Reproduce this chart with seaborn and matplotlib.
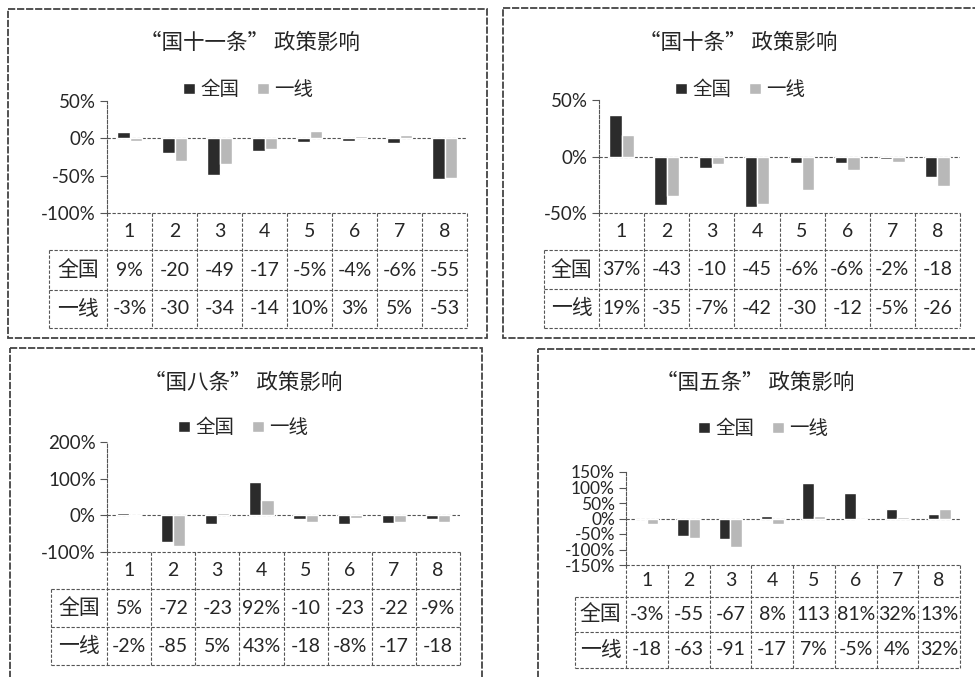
import pandas as pd
import matplotlib
matplotlib.use("Agg")
import matplotlib.pyplot as plt
from matplotlib.patches import Rectangle
import seaborn as sns

sns.set_theme(style="white")
plt.rcParams["font.family"] = ["Lato", "Noto Sans CJK SC", "DejaVu Sans"]

# 数据
categories = ["1", "2", "3", "4", "5", "6", "7", "8"]
series = ["全国", "一线"]
titles = ["“国十一条” 政策影响", "“国十条” 政策影响", "“国八条” 政策影响", "“国五条” 政策影响"]

guo11_quanguo = [9, -20, -49, -17, -5, -4, -6, -55]
guo11_yixian = [-3, -30, -34, -14, 10, 3, 5, -53]
guo10_quanguo = [37, -43, -10, -45, -6, -6, -2, -18]
guo10_yixian = [19, -35, -7, -42, -30, -12, -5, -26]
guo8_quanguo = [5, -72, -23, 92, -10, -23, -22, -9]
guo8_yixian = [-2, -85, 5, 43, -18, -8, -17, -18]
guo5_quanguo = [-3, -55, -67, 8, 113, 81, 32, 13]
guo5_yixian = [-18, -63, -91, -17, 7, -5, 4, 32]

y_ticks = [
    [50, 0, -50, -100],
    [50, 0, -50],
    [200, 100, 0, -100],
    [150, 100, 50, 0, -50, -100, -150],
]

colors = {"全国": "#2b2b2b", "一线": "#b8b8b8"}
line_col = "#555555"
dash = (0, (3, 1.5))

W, H = 975, 677

# 版面 (像素): 外框, y轴x, 绘图右边, 绘图顶, 表格行边界, 表格左边, 标题, 图例
layout = [
    dict(frame=(8, 9, 487, 338), x0=107, x1=467, ytop=101, rows=[213, 250, 290, 328],
         xl=49, title=(250, 43), legend=(248, 89), tick_size=13.5),
    dict(frame=(503, 8, 985, 338), x0=599, x1=960, ytop=100, rows=[213, 250, 289, 328],
         xl=544, title=(738, 43), legend=(740, 89), tick_size=13.5),
    dict(frame=(10, 348, 482, 690), x0=107, x1=460, ytop=442, rows=[552, 589, 627, 665],
         xl=51, title=(243, 383), legend=(243, 427), tick_size=13.5),
    dict(frame=(538, 349, 985, 690), x0=626, x1=960, ytop=472, rows=[565, 597, 632, 668],
         xl=575, title=(755, 383), legend=(763, 428), tick_size=12.5),
]


def fmt_cell(v):
    # Excel 数据表列太窄时会截掉 "%"
    s = f"{v}%"
    return s if len(s) <= 3 else s[:-1]


def fig_rect(x0, y0, x1, y1):
    return [x0 / W, 1 - y1 / H, (x1 - x0) / W, (y1 - y0) / H]


fig = plt.figure(figsize=(W / 100, H / 100), dpi=100)

ov = fig.add_axes([0, 0, 1, 1], zorder=-1)
ov.set_xlim(0, W)
ov.set_ylim(H, 0)
ov.axis("off")

panels = [
    (guo11_quanguo, guo11_yixian),
    (guo10_quanguo, guo10_yixian),
    (guo8_quanguo, guo8_yixian),
    (guo5_quanguo, guo5_yixian),
]

for k, (qg, yx) in enumerate(panels):
    L = layout[k]
    fx0, fy0, fx1, fy1 = L["frame"]
    ov.add_patch(Rectangle((fx0, fy0), fx1 - fx0, fy1 - fy0, fill=False,
                           edgecolor="#444444", lw=1.3, linestyle=(0, (4, 1))))
    ov.text(L["title"][0], L["title"][1], titles[k], ha="center", va="center",
            fontsize=15.5, family=["Noto Sans CJK SC"])

    df = pd.DataFrame({
        "cat": categories * 2,
        "series": [series[0]] * len(categories) + [series[1]] * len(categories),
        "value": qg + yx,
    })

    rows = L["rows"]
    ax = fig.add_axes(fig_rect(L["x0"], L["ytop"], L["x1"], rows[0]))
    ax.set_facecolor("none")
    sns.barplot(data=df, x="cat", y="value", hue="series", order=categories,
                hue_order=series, palette=colors, width=0.55, saturation=1,
                errorbar=None, ax=ax)
    ax.set_xlim(-0.5, len(categories) - 0.5)
    ticks = y_ticks[k]
    ax.set_ylim(min(ticks), max(ticks))
    ax.set_yticks(ticks)
    ax.set_yticklabels([f"{t}%" for t in ticks])
    ax.set_xlabel("")
    ax.set_ylabel("")
    ax.tick_params(axis="x", bottom=False, labelbottom=False)
    ax.tick_params(axis="y", left=True, length=5, width=0.8, color=line_col,
                   labelsize=L["tick_size"], pad=3)
    for s in ["top", "right", "bottom"]:
        ax.spines[s].set_visible(False)
    ax.spines["left"].set_color(line_col)
    ax.spines["left"].set_linewidth(0.8)
    ax.spines["left"].set_linestyle(dash)
    ax.axhline(0, color=line_col, lw=0.8, linestyle=dash, zorder=0)

    sns.move_legend(ax, "center",
                    bbox_to_anchor=(L["legend"][0] / W, 1 - L["legend"][1] / H),
                    bbox_transform=fig.transFigure, ncol=2, frameon=False, title=None,
                    fontsize=14, handlelength=0.65, handleheight=0.45,
                    handletextpad=0.25, columnspacing=0.9)

    # 数据表
    tax = fig.add_axes(fig_rect(L["x0"], rows[0], L["x1"], rows[-1]))
    tax.set_xlim(ax.get_xlim())
    tax.set_ylim(rows[-1], rows[0])
    tax.axis("off")
    n = len(categories)
    lw_cat = (L["x0"] - L["xl"]) / ((L["x1"] - L["x0"]) / n)
    xleft = -0.5 - lw_cat
    kw = dict(color=line_col, lw=0.8, linestyle=dash, clip_on=False)
    tax.plot([-0.5, n - 0.5], [rows[0], rows[0]], **kw)
    for r in rows[1:]:
        tax.plot([xleft, n - 0.5], [r, r], **kw)
    for i in range(n + 1):
        tax.plot([i - 0.5, i - 0.5], [rows[0], rows[-1]], **kw)
    tax.plot([xleft, xleft], [rows[1], rows[-1]], **kw)

    for i, c in enumerate(categories):
        tax.text(i, (rows[0] + rows[1]) / 2, c, ha="center", va="center",
                 fontsize=14, clip_on=False)
    for r, (name, vals) in enumerate(zip(series, (qg, yx))):
        yc = (rows[r + 1] + rows[r + 2]) / 2
        tax.text((xleft - 0.5) / 2, yc, name, ha="center", va="center",
                 fontsize=15, family=["Noto Sans CJK SC"], clip_on=False)
        for i, v in enumerate(vals):
            tax.text(i, yc, fmt_cell(v), ha="center", va="center",
                     fontsize=14, clip_on=False)

fig.savefig("out.png", dpi=100)
